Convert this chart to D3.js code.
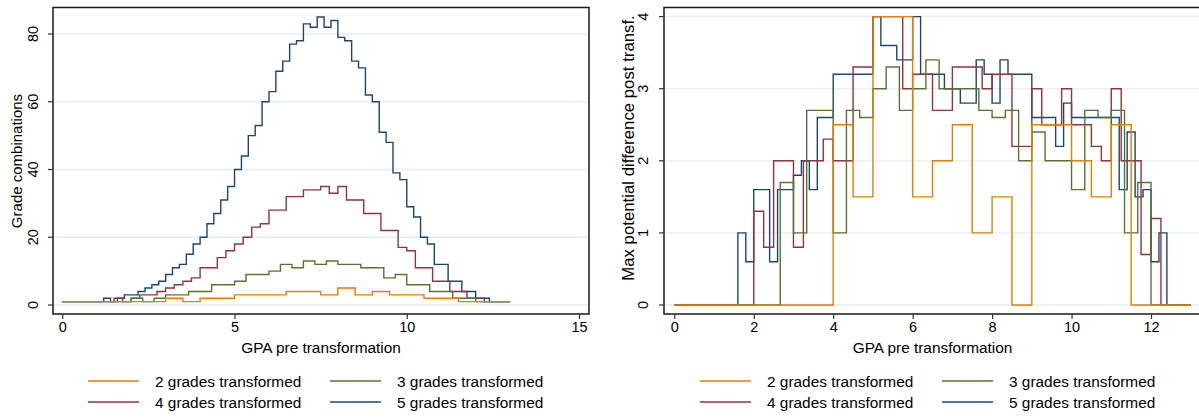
<!DOCTYPE html>
<html>
<head>
<meta charset="utf-8">
<script src="https://cdn.jsdelivr.net/npm/d3@7"></script>
<style>
  body { margin: 0; background: #fff; }
  svg { font-family: "Liberation Sans", Arial, sans-serif; }
</style>
</head>
<body>
<div id="chart"></div>
<script>
// grades transformed per series; GPA grid step is 1 / n
let gradeCounts = [2, 3, 4, 5]
let seriesNames = ['2 grades transformed', '3 grades transformed', '4 grades transformed', '5 grades transformed']
let seriesColors = ['#e37e00', '#55752f', '#90353b', '#1a476f']

let leftXTicks = [0, 5, 10, 15]
let leftYTicks = [0, 20, 40, 60, 80]
let rightXTicks = [0, 2, 4, 6, 8, 10, 12]
let rightYTicks = [0, 1, 2, 3, 4]

// Grade combinations, one value per GPA step
let combos2 = [1,1,1,1,1,1,2,1,2,2,3,3,3,4,4,3,5,3,4,3,3,2,2,1,1,1,1]
let combos3 = [1,1,1,1,1,1,2,1,2,3,3,4,4,6,6,7,9,9,10,12,11,13,12,13,12,12,11,11,8,9,6,6,4,4,2,2,1,1,1,1]
let combos4 = [1,1,1,1,1,1,2,1,2,3,3,4,5,6,7,8,11,11,14,16,18,20,23,24,28,28,32,32,34,34,35,33,35,31,31,27,27,22,22,17,16,11,11,7,7,4,4,2,2,1,1,1,1]
let combos5 = [1,1,1,1,1,1,2,1,2,3,3,4,5,6,7,9,11,12,15,18,20,24,27,31,35,40,44,50,53,60,63,69,72,77,78,83,82,85,82,84,79,78,72,70,62,60,51,48,39,37,29,26,20,18,12,12,7,7,4,4,2,2,1,1,1,1]

// Max potential difference post transformation
let maxDiff2 = [0,0,0,0,0,0,0,0,2.5,1.5,4,4,1.5,2,2.5,1,1.5,0,2.5,2.5,2,1.5,2.5,0,0,0,0]
let maxDiff3 = [0,0,0,0,0,0,0,0,1.7,1,2.7,2.7,1,2.7,2.6,3,3.3,2.7,3,3.4,3,3,3,2.7,2.6,2.7,2,2.4,2,2,1.6,2.7,2.6,2.7,1,1.7,0,0,0,0]
let maxDiff4 = [0,0,0,0,0,0,0,0,1.3,0.8,2,2,0.8,2,2,2.3,2,2,3.3,3.3,4,4,4,3,3.2,3.2,2.7,2.7,3.3,3.3,3.3,3,3.2,3.2,2.2,2.2,3,2.5,2.5,3,2.5,2.5,2.2,2,3,2,2,0.7,1.2,0,0,0,0]
let maxDiff5 = [0,0,0,0,0,0,0,0,1,0.6,1.6,1.6,0.6,1.6,1.6,1.8,2,1.6,2.6,2.6,3.2,3.2,3.2,3.2,3.2,4,3.6,3.6,3.4,3.4,4,3.2,3.2,3.2,3,3,2.8,2.8,3.4,3.2,2.8,3.4,3.2,3.2,3.2,2.6,2.6,2.6,2.2,2.8,2.6,2.6,2.6,2.6,2.6,2.6,1.6,2.4,1.5,1.6,0.6,1,0,0,0,0]

let width = 1199
let height = 418

let svg = d3.select('#chart')
  .append('svg')
    .attr('width', width)
    .attr('height', height)

function toPoints(values, n) {
  return values.map((v, i) => ({ gpa: i / n, value: v }))
}

function drawPanel(opts) {
  let g = svg.append('g')
  let xScale = d3.scaleLinear().domain(opts.xDomain).range(opts.xRange)
  let yScale = d3.scaleLinear().domain(opts.yDomain).range(opts.yRange)
  let f = opts.frame

  // Gridlines
  g.selectAll('.grid')
    .data(opts.yTicks)
    .enter().append('line')
      .attr('x1', f.left).attr('x2', f.right)
      .attr('y1', d => yScale(d)).attr('y2', d => yScale(d))
      .attr('stroke', '#e6eef0')
      .attr('stroke-width', 1.3)

  // Lines, 5 grades drawn first so the orange ends on top
  let line = d3.line()
    .x(d => xScale(d.gpa))
    .y(d => yScale(d.value))
    .curve(d3.curveStepAfter)

  for (let i = opts.series.length - 1; i >= 0; i--) {
    g.append('path')
      .datum(toPoints(opts.series[i], gradeCounts[i]))
      .attr('d', line)
      .attr('fill', 'none')
      .attr('stroke', seriesColors[i])
      .attr('stroke-width', 1.4)
  }

  // Frame
  g.append('rect')
    .attr('x', f.left).attr('y', f.top)
    .attr('width', f.right - f.left).attr('height', f.bottom - f.top)
    .attr('fill', 'none')
    .attr('stroke', '#1a1a1a')
    .attr('stroke-width', 1.5)

  // X Axis
  let xAxis = g.append('g')
    .attr('transform', `translate(0, ${f.bottom})`)
    .call(d3.axisBottom(xScale).tickValues(opts.xTicks).tickFormat(d3.format('d'))
      .tickSize(5).tickSizeOuter(0).tickPadding(3))
  xAxis.select('.domain').remove()
  xAxis.selectAll('text').attr('font-size', '14.5px').attr('fill', '#000')
    .attr('font-family', '"Liberation Sans", Arial, sans-serif')
  xAxis.selectAll('line').attr('stroke', '#333').attr('stroke-width', 1.2)

  // Y Axis, labels rotated like Stata
  let yAxis = g.append('g')
    .attr('transform', `translate(${f.left}, 0)`)
    .call(d3.axisLeft(yScale).tickValues(opts.yTicks).tickFormat(d3.format('d'))
      .tickSize(5).tickSizeOuter(0))
  yAxis.select('.domain').remove()
  yAxis.selectAll('.tick').attr('transform', 'translate(0,0)')
  yAxis.selectAll('.tick line')
    .attr('y1', d => yScale(d)).attr('y2', d => yScale(d))
    .attr('stroke', '#333').attr('stroke-width', 1.2)
  yAxis.selectAll('.tick text')
    .attr('font-size', '14.5px').attr('fill', '#000')
    .attr('font-family', '"Liberation Sans", Arial, sans-serif')
    .attr('x', null).attr('y', 0).attr('dy', null)
    .attr('text-anchor', 'middle')
    .attr('transform', d => `translate(${opts.yLabelX - f.left}, ${yScale(d)}) rotate(-90)`)

  // Titles
  g.append('text')
    .attr('x', (f.left + opts.xTitleRight) / 2)
    .attr('y', 353)
    .attr('text-anchor', 'middle')
    .attr('font-size', '15.4px')
    .text('GPA pre transformation')

  g.append('text')
    .attr('transform', `translate(${opts.yTitleX}, ${opts.yTitleY}) rotate(-90)`)
    .attr('text-anchor', 'middle')
    .attr('font-size', opts.yTitleSize)
    .text(opts.yTitle)

  // Legend
  let legend = g.append('g')
  seriesNames.forEach((name, i) => {
    let col = i % 2
    let row = Math.floor(i / 2)
    let lx = opts.legendX[col]
    let ly = 381 + row * 21
    legend.append('line')
      .attr('x1', lx).attr('x2', lx + 51)
      .attr('y1', ly).attr('y2', ly)
      .attr('stroke', seriesColors[i])
      .attr('stroke-width', 1.4)
    legend.append('text')
      .attr('x', lx + 67)
      .attr('y', ly + 5.5)
      .attr('font-size', '15.4px')
      .text(name)
  })
}

drawPanel({
  series: [combos2, combos3, combos4, combos5],
  xDomain: [0, 15], xRange: [62.3, 579],
  yDomain: [0, 80], yRange: [305, 34],
  xTicks: leftXTicks, yTicks: leftYTicks,
  frame: { left: 53, right: 589, top: 7.5, bottom: 314 },
  xTitleRight: 589,
  yLabelX: 38,
  yTitle: 'Grade combinations', yTitleX: 22, yTitleY: 161, yTitleSize: '15px',
  legendX: [88, 330]
})

drawPanel({
  series: [maxDiff2, maxDiff3, maxDiff4, maxDiff5],
  xDomain: [0, 12], xRange: [674.3, 1151],
  yDomain: [0, 4], yRange: [305, 16.6],
  xTicks: rightXTicks, yTicks: rightYTicks,
  frame: { left: 664, right: 1201, top: 7.5, bottom: 314 },
  xTitleRight: 1201,
  yLabelX: 648,
  yTitle: 'Max potential difference post transf.', yTitleX: 634, yTitleY: 148, yTitleSize: '16.8px',
  legendX: [700, 942]
})
</script>
</body>
</html>
